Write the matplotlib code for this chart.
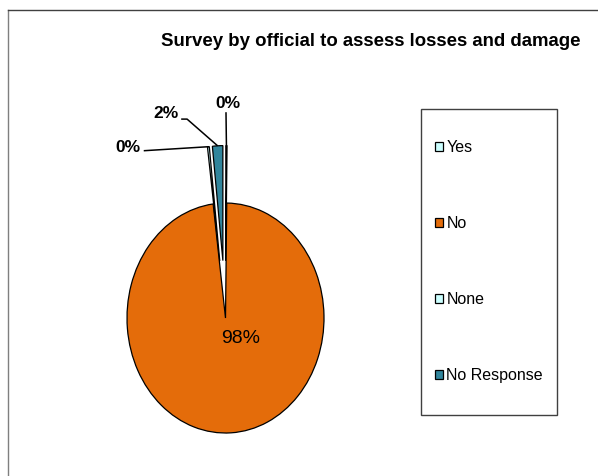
import numpy as np
import matplotlib
matplotlib.use("Agg")
import matplotlib.pyplot as plt
from matplotlib.lines import Line2D
from matplotlib.patches import Rectangle

plt.rcParams["font.family"] = ["Liberation Sans", "DejaVu Sans"]

title = "Survey by official to assess losses and damage"
categories = ["Yes", "No", "None", "No Response"]
shares = [0.2, 97.8, 0.3, 1.7]          # percent of respondents
colors = ["#CCFFFF", "#E46C0A", "#CCFFFF", "#31859C"]
explode = [0.5, 0.0, 0.5, 0.5]

fig = plt.figure(figsize=(5.98, 4.76), dpi=100)
W, H = 598, 476

# chart area frame (open on the right and bottom)
fig.add_artist(Line2D([8 / W, 8 / W], [0, 1 - 10 / H], transform=fig.transFigure,
                      color="#7f7f7f", lw=1.0))
fig.add_artist(Line2D([8 / W, 1], [1 - 10 / H, 1 - 10 / H], transform=fig.transFigure,
                      color="#404040", lw=1.0))

fig.text(371 / W, 1 - 41 / H, title, ha="center", va="center",
         fontsize=13.4, fontweight="bold", color="black")

# plot area: x in [-1.2, 1.2], y in [-1.2, 2.0]; pie is stretched vertically
ax = fig.add_axes([107.3 / W, 0.042, 236.4 / W, 0.773])
wedges, _ = ax.pie(shares, colors=colors, explode=explode, startangle=90,
                   counterclock=False, radius=1.0,
                   wedgeprops=dict(edgecolor="black", linewidth=0.9))
ax.set_aspect("auto")
ax.set_xlim(-1.2, 1.2)
ax.set_ylim(-1.2, 2.0)
ax.axis("off")


def outer_point(w, e):
    mid = np.deg2rad((w.theta1 + w.theta2) / 2)
    r = 1.0 + e
    return r * np.cos(mid), r * np.sin(mid)


labels = ["%.0f%%" % s for s in shares]

# big slice label inside the pie
ax.text(0.15, -0.18, labels[1], ha="center", va="center", fontsize=14)

# small exploded slices: labels with leader lines
small = {
    0: dict(text=(0.025, 1.87), path=[(0.005, 1.79)]),
    3: dict(text=(-0.60, 1.78), path=[(-0.45, 1.73), (-0.39, 1.73)]),
    2: dict(text=(-0.995, 1.48), path=[(-0.83, 1.455)]),
}
for i, spec in small.items():
    ax.text(*spec["text"], labels[i], ha="center", va="center",
            fontsize=12.5, fontweight="bold")
    pts = spec["path"] + [outer_point(wedges[i], explode[i])]
    xs, ys = zip(*pts)
    ax.plot(xs, ys, color="black", lw=1.1, solid_capstyle="butt")

# legend box
fig.add_artist(Rectangle((421 / W, 1 - 415 / H), 136 / W, 306 / H,
                         transform=fig.transFigure, facecolor="white",
                         edgecolor="#404040", lw=1.0, zorder=1))
leg = fig.legend(wedges, categories, loc="upper left",
                 bbox_to_anchor=(435 / W, 1 - 140 / H), frameon=False,
                 fontsize=11.5, handlelength=0.52, handleheight=0.52,
                 handletextpad=0.2, labelspacing=3.82, borderpad=0,
                 borderaxespad=0)
leg.set_zorder(2)

fig.savefig("out.png", dpi=100)
